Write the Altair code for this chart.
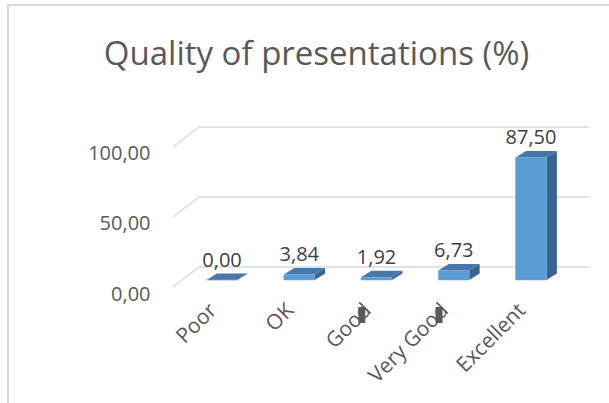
import json
import altair as alt
import pandas as pd

# ---- data -------------------------------------------------------------
categories = ["Poor", "OK", "Good", "Very Good", "Excellent"]
values = [0.00, 3.84, 1.92, 6.73, 87.50]
grid_values = [0, 50, 100]

# ---- pseudo-3D geometry (in category-index / value units) -------------
HALF_W = 0.2          # half width of a bar front face
DEPTH_X = 0.135       # bar depth, horizontal part
DEPTH_Y = 4.7         # bar depth, vertical part
WALL_FRONT_X = -0.634 # left edge of the floor/wall at the front
WALL_BACK_X = -0.298  # left edge of the back wall
WALL_FRONT_DY = -5.0  # value shift of the front edge against the bar plane
WALL_BACK_DY = 9.3    # value shift of the back wall against the bar plane
X_MIN, X_MAX = -0.8026, 4.7508
Y_MIN, Y_MAX = -10.714, 128.571

FRONT = "#5b9bd5"
TOP = "#4878ab"
SIDE = "#3a6390"
GRID = "#d9d9d9"
TEXT = "#595959"
FONT = "Open Sans"

xscale = alt.Scale(domain=[X_MIN, X_MAX], nice=False, zero=False)
yscale = alt.Scale(domain=[Y_MIN, Y_MAX], nice=False, zero=False)


def qx(field, **kw):
    return alt.X(field, type="quantitative", scale=xscale, **kw)


def qy(field, **kw):
    return alt.Y(field, type="quantitative", scale=yscale, **kw)


bars = pd.DataFrame({
    "idx": range(len(categories)),
    "cat": categories,
    "value": values,
})
bars["x0"] = bars["idx"] - HALF_W
bars["x1"] = bars["idx"] + HALF_W
bars["base"] = 0.0

# side and top faces: parallelograms behind each bar front
side_rows = []
top_rows = []
for i, (c, v) in enumerate(zip(categories, values)):
    side_rows.append({"cat": c, "xs": i + HALF_W, "yt": v, "yb": 0.0})
    side_rows.append({"cat": c, "xs": i + HALF_W + DEPTH_X,
                      "yt": v + DEPTH_Y, "yb": DEPTH_Y})
    top_rows.append({"cat": c, "yy": v, "xa": i - HALF_W, "xb": i + HALF_W})
    top_rows.append({"cat": c, "yy": v + DEPTH_Y,
                     "xa": i - HALF_W + DEPTH_X, "xb": i + HALF_W + DEPTH_X})
side = pd.DataFrame(side_rows)
top = pd.DataFrame(top_rows)

wall = pd.DataFrame({"g": grid_values})
wall["back_y"] = wall["g"] + WALL_BACK_DY
wall["front_y"] = wall["g"] + WALL_FRONT_DY
wall["bx"] = WALL_BACK_X
wall["fx"] = WALL_FRONT_X
wall["ex"] = X_MAX

# ---- layers ------------------------------------------------------------
# chart-area border (top and left edges show)
frame = alt.Chart(pd.DataFrame({"k": [0]})).mark_rect(
    fill=None, stroke=GRID, strokeWidth=2
).encode(
    x=alt.value(-152), x2=alt.value(451), y=alt.value(-95), y2=alt.value(305)
)

back_lines = alt.Chart(wall).mark_rule(color=GRID, strokeWidth=1.5).encode(
    x=qx("bx"), x2="ex", y=qy("back_y")
)
diag_lines = alt.Chart(wall).mark_rule(color=GRID, strokeWidth=1.5).encode(
    x=qx("fx"), x2="bx", y=qy("front_y"), y2="back_y"
)

top_faces = alt.Chart(top).mark_area(orient="horizontal", color=TOP).encode(
    y=qy("yy"), x=qx("xa"), x2="xb", detail="cat:N"
)
side_faces = alt.Chart(side).mark_area(orient="vertical", color=SIDE).encode(
    x=qx("xs"), y=qy("yt"), y2="yb", detail="cat:N"
)

x_axis = alt.Axis(
    values=list(range(len(categories))),
    labelExpr=json.dumps(categories) + "[datum.value]",
    labelAngle=-45, labelAlign="right", labelBaseline="middle",
    labelPadding=12, labelOffset=-9, labelFont=FONT, labelFontSize=21,
    labelColor=TEXT, labelOverlap=False, labelBound=False, labelFlush=False,
    domain=False, ticks=False, tickSize=0, grid=False, title=None,
)
y_axis = alt.Axis(
    values=grid_values,
    labelExpr="replace(format(datum.value, '.2f'), '.', ',')",
    labelOffset=14, labelPadding=10, labelFont=FONT, labelFontSize=20,
    labelColor=TEXT, labelOverlap=False, domain=False, ticks=False,
    tickSize=0, grid=False, title=None,
)

front_faces = alt.Chart(bars).mark_bar(color=FRONT, stroke="#6fa8dc",
                                       strokeWidth=0.5).encode(
    x=qx("x0", axis=x_axis), x2="x1", y=qy("value", axis=y_axis), y2="base"
)

labels = alt.Chart(bars).transform_calculate(
    label="replace(format(datum.value, '.2f'), '.', ',')"
).mark_text(
    font=FONT, fontSize=20, color="#404040", baseline="alphabetic", dy=-13.5
).encode(
    x=qx("idx"), y=qy("value"), text="label:N"
)

# small dark stubs over two of the category labels
stub_idx = [2, 3]
stubs = pd.DataFrame({"i": stub_idx})
stubs["xa"] = stubs["i"] - 0.235
stubs["xb"] = stubs["i"] - 0.145
stubs["ya"] = -19.3
stubs["yb"] = -30.7
stub_layer = alt.Chart(stubs).mark_rect(color=TEXT).encode(
    x=qx("xa"), x2="xb", y=qy("ya"), y2="yb"
)

chart = alt.layer(
    frame, back_lines, diag_lines, top_faces, side_faces, front_faces,
    labels, stub_layer
).properties(
    width=429,
    height=195,
    background="white",
    padding={"left": 160, "top": 100, "right": 20, "bottom": 108},
    autosize=alt.AutoSizeParams(type="none"),
    title=alt.TitleParams(
        text="Quality of presentations (%)", font=FONT, fontSize=33,
        fontWeight="normal", color=TEXT, anchor="middle", dx=-58,
        baseline="alphabetic", offset=-94,
    ),
).configure_view(stroke=None, strokeWidth=0)

chart.save("out.html", embed_options={"renderer": "svg", "actions": False})
